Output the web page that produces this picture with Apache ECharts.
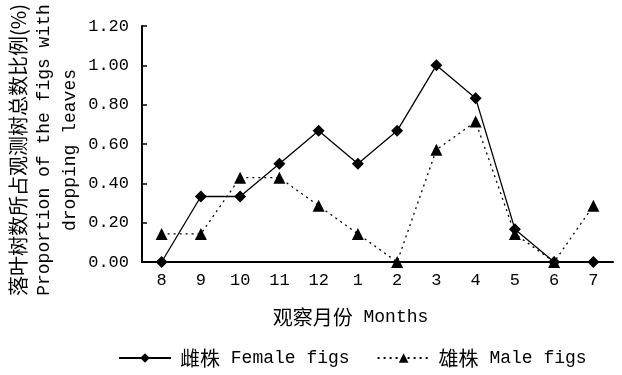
<!DOCTYPE html>
<html>
<head>
<meta charset="utf-8">
<script src="https://cdn.jsdelivr.net/npm/echarts@6/dist/echarts.min.js"></script>
<style>html,body{margin:0;padding:0;background:#fff}#c{width:622px;height:375px}</style>
</head>
<body>
<div id="c"></div>
<script>
const months = ['8','9','10','11','12','1','2','3','4','5','6','7'];
const female = [0, 0.333, 0.333, 0.5, 0.667, 0.5, 0.667, 1.0, 0.833, 0.167, 0, 0];
const male = [0.143, 0.143, 0.429, 0.429, 0.286, 0.143, 0, 0.571, 0.714, 0.143, 0, 0.286];
const yMin = 0, yMax = 1.2, yStep = 0.2;
const femaleName = '雌株 Female figs';
const maleName = '雄株 Male figs';

const FONT = "'Liberation Mono', 'Noto Sans CJK SC', monospace";
const CJK = "'Noto Sans CJK SC', 'Liberation Mono'";
const chart = echarts.init(document.getElementById('c'), null, {renderer: 'canvas'});
chart.setOption({
  backgroundColor: '#fff',
  animation: false,
  textStyle: {fontFamily: FONT, color: '#000'},
  grid: {left: 142, right: 9, top: 26, bottom: 113, containLabel: false, outerBoundsMode: 'none'},
  legend: {
    left: 113, top: 343,
    itemWidth: 52, itemHeight: 12, itemGap: 27,
    textStyle: {
      fontFamily: FONT, fontSize: 18, color: '#000', padding: [0, 0, 0, 4],
      rich: {c: {fontFamily: CJK, fontSize: 20, color: '#000'}, e: {fontFamily: FONT, fontSize: 18, color: '#000'}}
    },
    formatter: function (n) {
      const i = n.indexOf(' ');
      return '{c|' + n.slice(0, i) + '}{e|' + n.slice(i) + '}';
    },
    data: [femaleName, maleName]
  },
  xAxis: {
    type: 'category',
    data: months,
    boundaryGap: true,
    axisLine: {lineStyle: {color: '#000', width: 2}},
    axisTick: {inside: true, length: 5, lineStyle: {color: '#000', width: 1.5}},
    axisLabel: {color: '#000', fontSize: 17, fontFamily: FONT, margin: 10},
    name: '{c|观察月份}{e| Months}',
    nameLocation: 'middle',
    nameGap: 45,
    nameTextStyle: {
      padding: [0, 54, 0, 0],
      rich: {c: {fontFamily: CJK, fontSize: 20, color: '#000'}, e: {fontFamily: FONT, fontSize: 18, color: '#000'}}
    }
  },
  yAxis: {
    type: 'value',
    min: yMin, max: yMax, interval: yStep,
    splitLine: {show: false},
    axisLine: {show: true, lineStyle: {color: '#000', width: 2}},
    axisTick: {show: true, inside: true, length: 5, lineStyle: {color: '#000', width: 1.5}},
    axisLabel: {color: '#000', fontSize: 17, fontFamily: FONT, margin: 13, formatter: v => v.toFixed(2)},
    name: '{c|落叶树数所占观测树总数比例(%)}\n{e|Proportion of the figs with}\n{e|dropping leaves}',
    nameLocation: 'middle',
    nameRotate: 90,
    nameGap: 59,
    nameMoveOverlap: false,
    nameTextStyle: {
      align: 'center',
      lineHeight: 26,
      padding: [0, 12, 0, 0],
      rich: {
        c: {fontFamily: CJK, fontSize: 20, lineHeight: 26, color: '#000'},
        e: {fontFamily: FONT, fontSize: 18, lineHeight: 26, color: '#000', align: 'center'}
      }
    }
  },
  series: [
    {
      name: femaleName, type: 'line', data: female,
      symbol: 'diamond', symbolSize: 12,
      lineStyle: {color: '#000', width: 1.3, type: 'solid'},
      itemStyle: {color: '#000'}
    },
    {
      name: maleName, type: 'line', data: male,
      symbol: 'triangle', symbolSize: 12,
      lineStyle: {color: '#000', width: 1.3, type: [2, 4]},
      itemStyle: {color: '#000'}
    }
  ]
});
</script>
</body>
</html>
